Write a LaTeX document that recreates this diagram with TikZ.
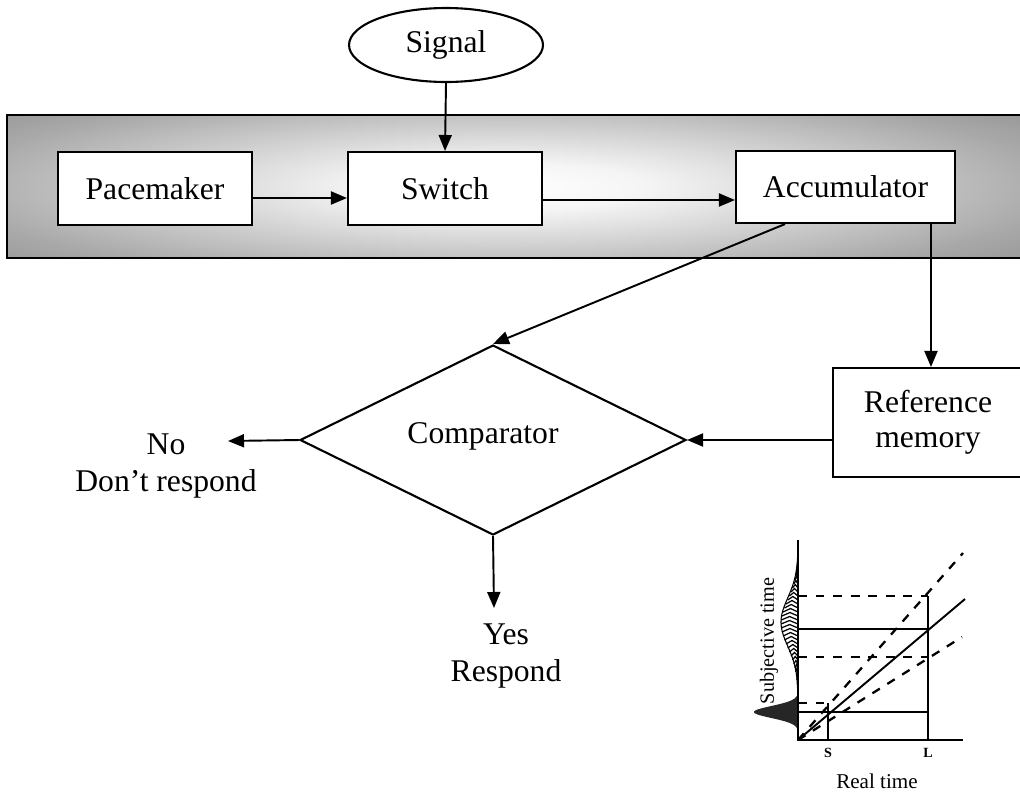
\documentclass[tikz,border=0pt]{standalone}
\usepackage{fontspec}
\setmainfont{Liberation Serif}
\usetikzlibrary{arrows.meta,shapes.geometric}
\pgfdeclareradialshading{bandshade}{\pgfpoint{0bp}{0bp}}{color(0bp)=(white); color(5bp)=(white!96!black); color(20bp)=(black!34); color(32bp)=(black!52); color(50bp)=(black!58)}
\begin{document}
\begin{tikzpicture}[x=0.02cm,y=-0.02cm,
  box/.style={draw, line width=1.2pt, fill=white, inner sep=0pt, align=center, font=\fontsize{18}{20}\selectfont},
  lbl/.style={align=center, inner sep=0pt, font=\fontsize{18}{21}\selectfont},
  arr/.style={line width=1.1pt, -{Triangle[length=0.32cm,width=0.26cm]}},
  gline/.style={line width=1.1pt},
  gdash/.style={line width=1.3pt, dash pattern=on 5pt off 5pt}]
\useasboundingbox (0,0) rectangle (1020,795);
% shaded band
\begin{scope}
  \clip (7,115) rectangle (1022,258);
  \shade[shading=bandshade] (-196,67) rectangle (1204,307);
\end{scope}
\draw[line width=1.2pt] (7,115) rectangle (1022,258);
% nodes
\node[draw, ellipse, line width=1.2pt, inner sep=0pt, minimum width=3.88cm, minimum height=1.48cm, font=\fontsize{18}{20}\selectfont] (sig) at (446,45) {Signal};
\node[box, minimum width=3.88cm, minimum height=1.46cm] (pace) at (155,188.5) {Pacemaker};
\node[box, minimum width=3.88cm, minimum height=1.46cm] (switch) at (445,188.5) {Switch};
\node[box, minimum width=4.38cm, minimum height=1.44cm] (acc) at (845.5,187) {Accumulator};
\node[box, minimum width=3.8cm, minimum height=2.18cm] (ref) at (928,422.5) {Reference\\memory};
\node[draw, diamond, shape aspect=2, line width=1.2pt, inner sep=0pt, minimum width=7.72cm, minimum height=3.8cm,
      label={[xshift=-0.2cm, yshift=0.08cm, font=\fontsize{18}{20}\selectfont]center:Comparator}] (comp) at (493,440) {};
\node[lbl] (no) at (166,466) {No\\Don’t respond};
\node[lbl] (yes) at (506,656) {Yes\\Respond};
\coordinate (noend) at (228,441);
\coordinate (yesend) at (494,608);
% connectors
\draw[arr] (sig.south) -- (switch.north);
\draw[arr] ([yshift=-0.19cm]pace.east) -- ([yshift=-0.19cm]pace.east -| switch.west);
\draw[arr] ([yshift=-0.23cm]switch.east) -- ([yshift=-0.23cm]switch.east -| acc.west);
\draw[arr] ([xshift=-1.21cm]acc.south) -- (comp.north);
\draw[arr] ([xshift=1.71cm]acc.south) -- ([xshift=1.71cm]acc.south |- ref.north);
\draw[arr] ([yshift=-0.35cm]ref.west) -- ([yshift=-0.35cm]ref.west -| comp.east);
\draw[arr] (comp.west) -- (noend);
\draw[arr] (comp.south) -- (yesend);
% graph
\fill[white] plot[domain=558:700,samples=80,smooth] ({798-17*exp(-0.5*((\x-622)/24)^2)},\x) -- cycle;
\foreach \yy in {566,570,...,690} {
  \pgfmathsetmacro\ww{17*exp(-0.5*((\yy-622)/24)^2)}
  \draw[line width=0.7pt] ({798-\ww},\yy+2) -- ({798-\ww/2},\yy-1.5) -- (798,\yy+2);
}
\draw[line width=0.6pt] plot[domain=558:700,samples=80,smooth] ({798-17*exp(-0.5*((\x-622)/24)^2)},\x);
\fill[black!85] plot[domain=690:734,samples=60,smooth] ({798-44*exp(-0.5*((\x-712)/6)^2)},\x) -- cycle;
\draw[gdash] (798,596) -- (928,596);
\draw[gdash] (798,657) -- (928,657);
\draw[gdash] (798,703) -- (828,703);
\draw[gline] (798,629) -- (928,629);
\draw[gline] (798,712) -- (928,712);
\draw[gline] (828,740) -- (828,703);
\draw[gline] (928,740) -- (928,596);
\draw[gline] (798,740) -- (965,599);
\draw[gdash] (798,740) -- (963,553);
\draw[gdash] (798,740) -- (962,637);
\draw[line width=1.6pt] (798,540) -- (798,740) -- (963,740);
\node[font=\fontsize{8}{9}\selectfont\bfseries] (sl) at (828,753) {S};
\node[font=\fontsize{8}{9}\selectfont\bfseries] (ll) at (928,753) {L};
\node[font=\fontsize{12}{14}\selectfont] (rt) at (877,781) {Real time};
\node[font=\fontsize{11.5}{13}\selectfont, rotate=90] (st) at (769,641) {Subjective time};
\end{tikzpicture}
\end{document}
